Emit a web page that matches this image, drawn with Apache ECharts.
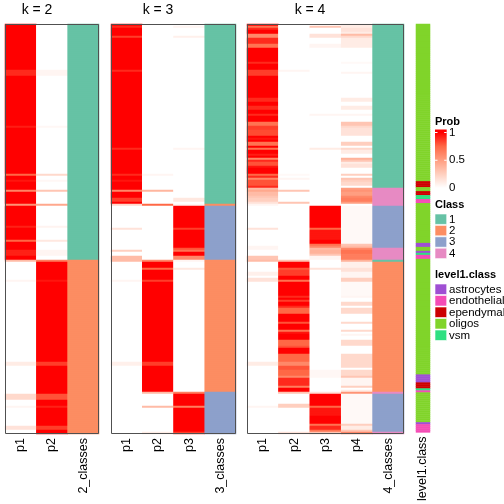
<!DOCTYPE html>
<html><head><meta charset="utf-8">
<script src="https://cdn.jsdelivr.net/npm/echarts@6/dist/echarts.min.js"></script>
<style>html,body{margin:0;padding:0;background:#fff}#c{width:504px;height:504px}</style>
</head><body><div id="c"></div>
<script>
// ---------- data (row segments: [fromRow, toRow, value]; later segments override earlier) ----------
const NROWS = 205;
const k2Columns = ['p1', 'p2', '2_classes'];
const k3Columns = ['p1', 'p2', 'p3', '3_classes'];
const k4Columns = ['p1', 'p2', 'p3', 'p4', '4_classes'];
const annColumns = ['level1.class'];
const titles = ['k = 2', 'k = 3', 'k = 4'];
const probTicks = ['1', '0.5', '0'];
const classNames = ['1', '2', '3', '4'];
const level1Names = ['astrocytes', 'endothelial', 'ependymal', 'oligos', 'vsm'];

const k2p1 = [[0,117,1],[118,204,0],[23,25,.9],[51,51,.93],[75,75,.75],[78,78,.95],[83,83,.62],[90,90,.55],[101,101,.92],[108,108,.75],[113,115,.92],[118,118,.35],[128,128,.05],[169,170,.1],[185,187,.2],[191,191,.05],[201,202,.15]];
const k2p2 = [[0,117,0],[118,204,1],[23,25,.05],[51,51,.04],[75,75,.2],[78,78,.04],[83,83,.3],[90,90,.45],[101,101,.06],[108,108,.12],[113,115,.05],[118,118,.65],[128,128,.95],[169,170,.85],[185,187,.8],[191,191,.92],[201,202,.85]];
const k2cls = [[0,117,1],[118,204,2]];

const k3p1 = [[0,89,1],[90,204,0],[1,1,.9],[6,6,.85],[23,23,.9],[62,62,.9],[75,75,.9],[78,78,.95],[83,83,.6],[87,88,.85],[90,90,.2],[102,102,.15],[113,113,.25],[116,117,.35],[118,118,.35],[128,128,.05],[169,170,.08]];
const k3p2 = [[0,89,0],[90,90,.75],[91,117,0],[118,183,1],[184,204,0],[75,75,.05],[83,83,.38],[118,118,.6],[122,122,.75],[128,128,.85],[169,170,.85],[184,184,.35],[191,191,.35],[204,204,.1]];
const k3p3 = [[0,89,0],[90,90,.05],[91,117,1],[118,183,0],[184,204,1],[1,1,.05],[6,6,.08],[62,62,.05],[87,88,.12],[102,102,.85],[112,112,.8],[113,113,.7],[116,117,.6],[118,118,.05],[122,122,.12],[184,184,.65],[191,191,.65],[204,204,.85]];
const k3cls = [[0,89,1],[90,90,2],[91,117,3],[118,183,2],[184,204,3]];

const k4p1 = [[0,81,1],[82,204,0],[1,1,.7],[2,2,.9],[5,6,.6],[7,9,.9],[10,11,.7],[19,19,.9],[23,25,.85],[37,38,.9],[41,42,.9],[45,45,.9],[49,50,.7],[51,52,.85],[53,55,.82],[57,57,.95],[59,60,.7],[62,62,.7],[65,65,.93],[67,67,.6],[68,68,.9],[69,70,.8],[71,71,.95],[75,75,.75],[76,76,.9],[77,77,.6],[78,80,.8],[81,81,.9],[82,82,.35],[83,83,.45],[84,85,.35],[86,86,.3],[87,88,.25],[89,89,.15],[90,90,.05],[102,102,.15],[111,112,.05],[116,117,.3],[118,118,.35],[124,125,.08],[127,128,.15],[169,170,.1],[191,191,.05]];
const k4p2 = [[0,118,0],[119,183,1],[184,204,0],[23,23,.05],[75,75,.03],[77,77,.05],[83,83,.3],[89,89,.3],[118,118,.3],[122,122,.8],[123,125,.85],[128,128,.7],[136,136,.9],[138,138,.85],[141,141,.9],[142,144,.75],[149,149,.8],[153,153,.7],[154,154,.95],[158,160,.75],[161,161,.8],[165,168,.75],[169,170,.6],[171,172,.8],[173,175,.75],[176,176,.6],[177,180,.9],[181,181,.65],[184,184,.3],[190,191,.25],[204,204,.15]];
const k4p3 = [[0,90,0],[91,111,1],[112,184,0],[185,203,1],[204,204,0],[1,1,.3],[5,6,.15],[10,11,.05],[45,45,.05],[62,62,.1],[102,102,.75],[103,107,.95],[110,110,.7],[111,111,.6],[112,112,.35],[113,114,.4],[115,115,.3],[116,117,.05],[122,122,.15],[173,176,.04],[184,184,.15],[191,191,.75],[192,195,.95],[200,200,.7],[201,202,.9],[203,203,.7],[204,204,.3]];
const k4p4 = [[0,204,0],[0,0,.1],[1,1,.1],[2,3,.15],[4,4,.1],[5,5,.35],[6,6,.2],[7,9,.1],[10,11,.1],[19,19,.03],[24,24,.05],[37,38,.1],[41,42,.1],[45,45,.05],[49,50,.3],[51,51,.2],[52,55,.15],[59,60,.25],[62,62,.2],[63,64,.1],[67,67,.4],[68,68,.3],[69,69,.1],[70,71,.15],[75,75,.25],[77,77,.3],[78,78,.25],[79,80,.2],[82,82,.5],[83,83,.55],[84,85,.5],[86,86,.6],[87,88,.65],[89,89,.5],[91,109,.03],[110,110,.3],[111,111,.35],[112,112,.6],[113,114,.7],[115,117,.65],[118,118,.4],[119,121,.08],[122,123,.15],[124,126,.05],[127,128,.25],[129,135,.03],[136,136,.05],[139,140,.2],[142,144,.2],[149,149,.2],[153,153,.2],[155,155,.05],[158,160,.2],[165,171,.2],[173,175,.2],[176,176,.3],[177,180,.05],[181,181,.25],[183,183,.1],[184,184,.55],[185,199,.03],[200,200,.25],[201,202,.1],[203,203,.3],[204,204,.6]];
const k4cls = [[0,81,1],[82,90,4],[91,111,3],[112,117,4],[118,118,1],[119,183,2],[184,184,4],[185,203,3],[204,204,4]];

// level1.class codes: 0 astrocytes, 1 endothelial, 2 ependymal, 3 oligos, 4 vsm
const level1 = [[0,204,3],[79,81,2],[84,85,2],[86,87,4],[88,89,1],[110,111,0],[114,114,0],[115,115,4],[116,117,1],[176,179,0],[180,182,2],[183,183,4],[184,184,1],[200,200,0],[201,204,1]];

// ---------- styling ----------
const probColors = ['#FFFFFF', '#FFCFBF', '#FF9E81', '#FF6846', '#FF0000'];
const classColors = ['#66C2A5', '#FC8D62', '#8DA0CB', '#E78AC3'];
const level1Colors = ['#9F4FD3', '#F44CB5', '#CC0000', '#80D42A', '#2EE081'];
const FONT = '"Liberation Sans", Arial, sans-serif';

function expand(segs) {
  const a = new Array(NROWS).fill(0);
  for (const [f, t, v] of segs) for (let i = f; i <= t; i++) a[i] = v;
  return a;
}
function cells(cols, startCol) {
  const out = [];
  cols.forEach((segs, ci) => {
    const arr = expand(segs);
    arr.forEach((v, r) => out.push([startCol + ci, r, v]));
  });
  return out;
}
const rowCats = Array.from({length: NROWS}, (_, i) => String(i));

const panels = [
  {left: 5, width: 94, cols: k2Columns},
  {left: 111, width: 125, cols: k3Columns},
  {left: 247, width: 157, cols: k4Columns},
  {left: 416, width: 14, cols: annColumns}
];
const TOP = 24, H = 410;

const grid = panels.map(p => ({left: p.left, top: TOP, width: p.width, height: H, containLabel: false}));
const xAxis = panels.map((p, i) => ({
  type: 'category', gridIndex: i, data: p.cols, position: 'bottom',
  axisLine: {show: false}, axisTick: {show: false}, splitLine: {show: false},
  axisLabel: {rotate: 90, margin: 4, fontSize: 12.5, color: '#000', fontFamily: FONT}
}));
const yAxis = panels.map((p, i) => ({
  type: 'category', gridIndex: i, data: rowCats, inverse: true, show: false
}));

function hm(gi, data) {
  return {type: 'heatmap', xAxisIndex: gi, yAxisIndex: gi, data,
    progressive: 0, animation: false, emphasis: {disabled: true}, itemStyle: {borderWidth: 0}};
}
const series = [
  hm(0, cells([k2p1, k2p2], 0)),
  hm(0, cells([k2cls], 2)),
  hm(1, cells([k3p1, k3p2, k3p3], 0)),
  hm(1, cells([k3cls], 3)),
  hm(2, cells([k4p1, k4p2, k4p3, k4p4], 0)),
  hm(2, cells([k4cls], 4)),
  hm(3, cells([level1], 0))
];

const visualMap = [
  {type: 'continuous', show: false, min: 0, max: 1, seriesIndex: [0, 2, 4], dimension: 2, inRange: {color: probColors}},
  {type: 'piecewise', show: false, seriesIndex: [1, 3, 5], dimension: 2,
   pieces: classNames.map((n, i) => ({value: i + 1, color: classColors[i]}))},
  {type: 'piecewise', show: false, seriesIndex: [6], dimension: 2,
   pieces: level1Names.map((n, i) => ({value: i, color: level1Colors[i]}))}
];

// ---------- decorations (frames, titles, legends) ----------
const graphic = [];
panels.slice(0, 3).forEach(p => {
  graphic.push({type: 'rect', z: 100, silent: true,
    shape: {x: p.left + 0.5, y: TOP + 0.5, width: p.width - 1, height: H - 1},
    style: {fill: 'none', stroke: '#505050', lineWidth: 1}});
});
const titleX = [37, 158, 310];
titles.forEach((t, i) => graphic.push({type: 'text', z: 100, x: titleX[i], y: 10,
  style: {text: t, font: '14px ' + FONT, fill: '#000', align: 'center', verticalAlign: 'middle'}}));

const LX = 435, LW = 11.7, TX = 449;
const boldFont = 'bold 11px ' + FONT, labFont = '11.5px ' + FONT;
// Prob legend
graphic.push({type: 'text', z: 100, x: LX, y: 121.5, style: {text: 'Prob', font: boldFont, fill: '#000', verticalAlign: 'middle'}});
const barTop = 129.5, barBot = 188, y1 = 132.5;
const o1 = (y1 - barTop) / (barBot - barTop);
graphic.push({type: 'rect', z: 100, shape: {x: LX, y: barTop, width: LW, height: barBot - barTop},
  style: {fill: {type: 'linear', x: 0, y: 0, x2: 0, y2: 1, colorStops: [
    {offset: 0, color: probColors[4]}, {offset: o1, color: probColors[4]},
    {offset: o1 + (1 - o1) * 0.25, color: probColors[3]},
    {offset: o1 + (1 - o1) * 0.5, color: probColors[2]},
    {offset: o1 + (1 - o1) * 0.75, color: probColors[1]},
    {offset: 1, color: probColors[0]}]}}});
const tickYs = [y1, (y1 + barBot) / 2, barBot];
tickYs.slice(0, 2).forEach(y => {
  graphic.push({type: 'line', z: 101, shape: {x1: LX, y1: y, x2: LX + 2.5, y2: y}, style: {stroke: '#fff', lineWidth: 1}});
  graphic.push({type: 'line', z: 101, shape: {x1: LX + LW - 2.5, y1: y, x2: LX + LW, y2: y}, style: {stroke: '#fff', lineWidth: 1}});
});
probTicks.forEach((t, i) => graphic.push({type: 'text', z: 100, x: TX, y: tickYs[i],
  style: {text: t, font: labFont, fill: '#000', verticalAlign: 'middle'}}));

// Class legend
graphic.push({type: 'text', z: 100, x: LX, y: 205, style: {text: 'Class', font: boldFont, fill: '#000', verticalAlign: 'middle'}});
classNames.forEach((n, i) => {
  const y = 214 + i * 11.4;
  graphic.push({type: 'rect', z: 100, shape: {x: LX, y: y, width: LW, height: 10.4},
    style: {fill: classColors[i], stroke: 'rgba(255,255,255,0.6)', lineWidth: 1}});
  graphic.push({type: 'text', z: 100, x: TX, y: y + 5.4, style: {text: n, font: labFont, fill: '#000', verticalAlign: 'middle'}});
});

// level1.class legend
graphic.push({type: 'text', z: 100, x: LX, y: 275, style: {text: 'level1.class', font: boldFont, fill: '#000', verticalAlign: 'middle'}});
level1Names.forEach((n, i) => {
  const y = 284 + i * 11.5;
  graphic.push({type: 'rect', z: 100, shape: {x: LX, y: y, width: LW, height: 10.5},
    style: {fill: level1Colors[i], stroke: 'rgba(255,255,255,0.6)', lineWidth: 1}});
  graphic.push({type: 'text', z: 100, x: TX, y: y + 5.4, style: {text: n, font: labFont, fill: '#000', verticalAlign: 'middle'}});
});

const chart = echarts.init(document.getElementById('c'), null, {renderer: 'canvas'});
chart.setOption({
  animation: false,
  backgroundColor: '#fff',
  grid, xAxis, yAxis, series, visualMap, graphic
});
</script>
</body></html>
